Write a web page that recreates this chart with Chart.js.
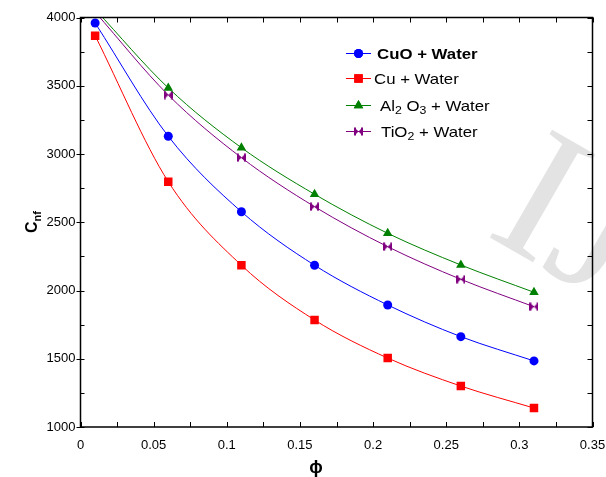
<!DOCTYPE html>
<html>
<head>
<meta charset="utf-8">
<script src="https://cdn.jsdelivr.net/npm/chart.js@4/dist/chart.umd.min.js"></script>
<style>
html, body { margin: 0; padding: 0; background: #fff; }
#wrap { width: 606px; height: 477px; }
</style>
</head>
<body>
<div id="wrap"><canvas id="cnf_chart" width="606" height="477"></canvas></div>
<script>
// data
var phi = [0.01, 0.06, 0.11, 0.16, 0.21, 0.26, 0.31];
var cuoWater = [3960, 3130, 2577, 2185, 1894, 1662, 1484];
var cuWater = [3867, 2797, 2185, 1784, 1505, 1300, 1139];
var al2o3Water = [4060, 3484, 3046, 2705, 2419, 2187, 1987];
var tio2Water = [4040, 3432, 2973, 2614, 2321, 2082, 1881];
var xTicks = [0, 0.05, 0.1, 0.15, 0.2, 0.25, 0.3, 0.35];
var yTicks = [1000, 1500, 2000, 2500, 3000, 3500, 4000];

var FONT = '"Liberation Sans", Arial, sans-serif';

function pts(ys){
    return phi.map(function(x, i){ return {x: x, y: ys[i]}; });
}

// purple bow-tie marker
function bowtie(color){
    var c = document.createElement('canvas');
    c.width = 9; c.height = 9;
    var g = c.getContext('2d');
    g.fillStyle = color;
    g.beginPath(); g.moveTo(1, 1); g.lineTo(4.5, 4.5); g.lineTo(1, 8); g.closePath(); g.fill();
    g.beginPath(); g.moveTo(8, 1); g.lineTo(4.5, 4.5); g.lineTo(8, 8); g.closePath(); g.fill();
    g.fillRect(0, 0.5, 2, 8);
    g.fillRect(7, 0.5, 2, 8);
    return c;
}
var tieMarker = bowtie('#800080');

function series(label, ys, color, style, radius){
    return {
        label: label,
        data: pts(ys),
        borderColor: color,
        backgroundColor: color,
        borderWidth: 1,
        pointStyle: style,
        pointRadius: radius,
        pointBorderWidth: 0,
        cubicInterpolationMode: 'monotone',
        clip: 0
    };
}

// legend entries, parts: [text, subscript?]
var legendParts = [
    {bold: true, parts: [['CuO + Water', false]]},
    {bold: false, parts: [['Cu + Water', false]]},
    {bold: false, parts: [['Al', false], ['2', true], [' O', false], ['3', true], [' + Water', false]]},
    {bold: false, parts: [['TiO', false], ['2', true], [' + Water', false]]}
];
var legendRows = [53, 78, 105, 131];
var legendTextX = [377, 374, 380, 381];

var decor = {
    id: 'decor',
    beforeDatasetsDraw: function(chart){
        // faint watermark
        var ctx = chart.ctx;
        ctx.save();
        ctx.translate(484, 234);
        ctx.rotate(30 * Math.PI / 180);
        ctx.font = '190px "Liberation Serif", "Times New Roman", serif';
        ctx.fillStyle = 'rgba(200,200,200,0.5)';
        ctx.fillText('IJERT', 0, 0);
        ctx.restore();
    },
    afterDraw: function(chart){
        var ctx = chart.ctx;
        var a = chart.chartArea;
        var xs = chart.scales.x, ys = chart.scales.y;
        ctx.save();
        ctx.strokeStyle = '#000';
        ctx.lineWidth = 1.5;
        ctx.strokeRect(a.left, a.top, a.right - a.left, a.bottom - a.top);
        ctx.lineWidth = 1;
        ctx.beginPath();
        for (var v = 0; v <= 0.3501; v += 0.025) {
            var px = Math.round(xs.getPixelForValue(v)) + 0.5;
            ctx.moveTo(px, a.bottom); ctx.lineTo(px, a.bottom - 5);
            ctx.moveTo(px, a.top); ctx.lineTo(px, a.top + 5);
        }
        for (var w = 1000; w <= 4000; w += 250) {
            var py = Math.round(ys.getPixelForValue(w)) + 0.5;
            var major = (w % 500 === 0);
            ctx.moveTo(a.left - (major ? 4 : 0), py); ctx.lineTo(a.left + 4, py);
            ctx.moveTo(a.right, py); ctx.lineTo(a.right - 5, py);
        }
        ctx.stroke();

        // y title C_nf
        ctx.save();
        ctx.translate(37, 222);
        ctx.rotate(-Math.PI / 2);
        ctx.fillStyle = '#000';
        ctx.font = 'bold 16px ' + FONT;
        var cw = ctx.measureText('C').width;
        ctx.font = 'bold 11px ' + FONT;
        var nw = ctx.measureText('nf').width;
        var sx = -(cw + nw) / 2;
        ctx.font = 'bold 16px ' + FONT;
        ctx.fillText('C', sx, 0);
        ctx.font = 'bold 11px ' + FONT;
        ctx.fillText('nf', sx + cw, 4);
        ctx.restore();

        // x title phi
        ctx.font = 'bold 18px ' + FONT;
        ctx.textAlign = 'center';
        ctx.fillStyle = '#000';
        ctx.fillText('\u03D5', 316, 473);
        ctx.textAlign = 'left';

        // legend
        chart.data.datasets.forEach(function(ds, i){
            var y = legendRows[i] + 0.5;
            ctx.strokeStyle = ds.borderColor;
            ctx.lineWidth = 1;
            ctx.beginPath();
            ctx.moveTo(346, y); ctx.lineTo(371, y);
            ctx.stroke();
            ctx.fillStyle = ds.borderColor;
            Chart.helpers.drawPoint(ctx, {pointStyle: ds.pointStyle, radius: ds.pointRadius, borderWidth: 0}, 358.5, y);
            if (typeof ds.pointStyle === 'string') ctx.fill();
            var entry = legendParts[i];
            ctx.save();
            ctx.translate(legendTextX[i], 0);
            ctx.scale(1.12, 1);
            var tx = 0;
            ctx.fillStyle = '#000';
            entry.parts.forEach(function(p){
                ctx.font = (entry.bold ? 'bold ' : '') + (p[1] ? '11px ' : '15px ') + FONT;
                ctx.fillText(p[0], tx, y + (p[1] ? 8.5 : 5));
                tx += ctx.measureText(p[0]).width;
            });
            ctx.restore();
        });
        ctx.restore();
    }
};

var ctx = document.getElementById('cnf_chart');
var chart = new Chart(ctx, {
    type: 'line',
    data: {
        datasets: [
            series('CuO + Water', cuoWater, '#0000ff', 'circle', 4.5),
            series('Cu + Water', cuWater, '#ff0000', 'rect', 6),
            series('Al2 O3 + Water', al2o3Water, '#008000', 'triangle', 5.5),
            series('TiO2 + Water', tio2Water, '#800080', tieMarker, 5)
        ]
    },
    options: {
        responsive: false,
        animation: false,
        layout: { padding: { top: 17.5, right: 0, left: 0, bottom: 0 } },
        plugins: {
            legend: { display: false },
            tooltip: { enabled: false }
        },
        scales: {
            x: {
                type: 'linear',
                min: 0, max: 0.35,
                afterBuildTicks: function(s){ s.ticks = xTicks.map(function(v){ return {value: v}; }); },
                afterFit: function(s){ s.height = 50; s.paddingRight = 13.5; s.paddingLeft = 0; },
                grid: { display: false, drawTicks: false },
                border: { display: false },
                ticks: {
                    autoSkip: false,
                    maxRotation: 0,
                    padding: 11,
                    color: '#000',
                    font: { family: FONT, size: 13 },
                    callback: function(v){ return String(+v.toFixed(3)); }
                }
            },
            y: {
                min: 1000, max: 4000,
                afterBuildTicks: function(s){ s.ticks = yTicks.map(function(v){ return {value: v}; }); },
                afterFit: function(s){ s.width = 80.5; },
                grid: { display: false, drawTicks: false },
                border: { display: false },
                ticks: {
                    padding: 5,
                    color: '#000',
                    font: { family: FONT, size: 13 },
                    callback: function(v){ return String(v); }
                }
            }
        }
    },
    plugins: [decor]
});
</script>
</body>
</html>
